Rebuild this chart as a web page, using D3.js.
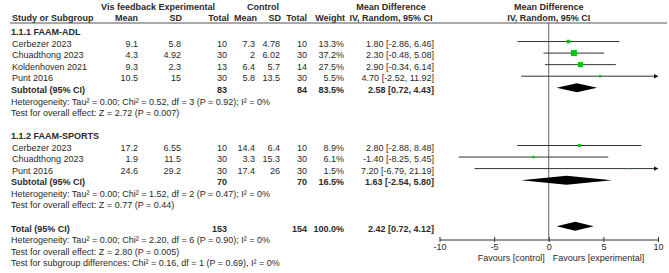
<!DOCTYPE html>
<html>
<head>
<meta charset="utf-8">
<script src="https://cdn.jsdelivr.net/npm/d3@7"></script>
<style>
    body { margin: 0; background: #fff; }
    svg text { font-family: Arial, "Liberation Sans", sans-serif; font-size: 9px; fill: #2a2a2a; }
    svg text.bold { font-weight: bold; }
</style>
</head>
<body>
<svg id="chart"></svg>
<script>
// study level data
const studyNames = ['Cerbezer 2023', 'Chuadthong 2023', 'Koldenhoven 2021', 'Punt 2016', 'Cerbezer 2023', 'Chuadthong 2023', 'Punt 2016'];
const studyGroup = [0, 0, 0, 0, 1, 1, 1];
const expMean = [9.1, 4.3, 9.3, 10.5, 17.2, 1.9, 24.6];
const expSD = [5.8, 4.92, 2.3, 15, 6.55, 11.5, 29.2];
const expTotal = [10, 30, 13, 30, 10, 30, 30];
const ctlMean = [7.3, 2, 6.4, 5.8, 14.4, 3.3, 17.4];
const ctlSD = [4.78, 6.02, 5.7, 13.5, 6.4, 15.3, 26];
const ctlTotal = [10, 30, 14, 30, 10, 30, 30];
const weights = [13.3, 37.2, 27.5, 5.5, 8.9, 6.1, 1.5];
const meanDiff = [1.80, 2.30, 2.90, 4.70, 2.80, -1.40, 7.20];
const ciLow = [-2.86, -0.48, -0.34, -2.52, -2.88, -8.25, -6.79];
const ciHigh = [6.46, 5.08, 6.14, 11.92, 8.48, 5.45, 21.19];

// subgroups
const groupNames = ['1.1.1 FAAM-ADL', '1.1.2 FAAM-SPORTS'];
const groupExpTotal = [83, 70];
const groupCtlTotal = [84, 70];
const groupWeight = [83.5, 16.5];
const groupMd = [2.58, 1.63];
const groupLow = [0.72, -2.54];
const groupHigh = [4.43, 5.80];
const groupHetero = [
    'Heterogeneity: Tau² = 0.00; Chi² = 0.52, df = 3 (P = 0.92); I² = 0%',
    'Heterogeneity: Tau² = 0.00; Chi² = 1.52, df = 2 (P = 0.47); I² = 0%'
];
const groupEffect = [
    'Test for overall effect: Z = 2.72 (P = 0.007)',
    'Test for overall effect: Z = 0.77 (P = 0.44)'
];

// overall
const totalExp = 153;
const totalCtl = 154;
const totalWeight = 100.0;
const totalMd = 2.42;
const totalLow = 0.72;
const totalHigh = 4.12;
const totalNotes = [
    'Heterogeneity: Tau² = 0.00; Chi² = 2.20, df = 6 (P = 0.90); I² = 0%',
    'Test for overall effect: Z = 2.80 (P = 0.005)',
    'Test for subgroup differences: Chi² = 0.16, df = 1 (P = 0.69), I² = 0%'
];

const axisTicks = [-10, -5, 0, 5, 10];
const axisDomain = [-10, 10];

class ForestPlot {

    constructor(_config) {
        this.config = {
            parentElement: _config.parentElement,
            containerWidth: _config.containerWidth || 669,
            containerHeight: _config.containerHeight || 273,
            plotLeft: 439.5,
            plotRight: 658,
            headerLine: 23,
            axisY: 239.5,
            // right edges of the numeric columns
            cols: {name: 11, expMean: 138, expSD: 181, expTotal: 227, ctlMean: 255, ctlSD: 280, ctlTotal: 307, weight: 344, ci: 434},
            heads: {expMean: 138, expSD: 182, expTotal: 229, ctlMean: 257, ctlSD: 281, ctlTotal: 307, weight: 345}
        };
        this.initVis();
    }

    initVis() {
        let vis = this;

        vis.svg = d3.select(vis.config.parentElement)
            .attr('width', vis.config.containerWidth)
            .attr('height', vis.config.containerHeight);

        vis.xScale = d3.scaleLinear()
            .domain(axisDomain)
            .range([vis.config.plotLeft, vis.config.plotRight]);

        vis.rowY = d3.scaleLinear()
            .domain([0, 20])
            .range([32, 263]);

        vis.boxSize = d3.scaleSqrt()
            .domain([0, d3.max(weights)])
            .range([0, 6]);

        vis.xAxis = d3.axisBottom(vis.xScale)
            .tickValues(axisTicks)
            .tickFormat(d => String(d))
            .tickSizeInner(0)
            .tickSizeOuter(0)
            .tickPadding(4.5);
    }

    updateVis() {
        let vis = this;

        // lay the rows out
        vis.rows = [];
        let r = 0;
        groupNames.forEach((g, gi) => {
            vis.rows.push({type: 'group', row: r++, gi});
            studyNames.forEach((s, i) => {
                if (studyGroup[i] === gi) vis.rows.push({type: 'study', row: r++, i});
            });
            vis.rows.push({type: 'subtotal', row: r++, gi});
            vis.rows.push({type: 'note', row: r++, text: groupHetero[gi]});
            vis.rows.push({type: 'note', row: r++, text: groupEffect[gi]});
            r++;
        });
        vis.rows.push({type: 'total', row: r++});
        totalNotes.forEach(t => vis.rows.push({type: 'note', row: r++, text: t}));

        vis.renderVis();
    }

    text(x, y, str, anchor, bold) {
        return this.svg.append('text')
            .attr('x', x)
            .attr('y', y)
            .attr('text-anchor', anchor || 'start')
            .attr('class', bold ? 'bold' : null)
            .text(str);
    }

    ciText(md, lo, hi) {
        return `${md.toFixed(2)} [${lo.toFixed(2)}, ${hi.toFixed(2)}]`;
    }

    renderVis() {
        let vis = this;
        const c = vis.config.cols;
        const h = vis.config.heads;
        const x = vis.xScale;

        // headers
        vis.text(158, 10, 'Vis feedback Experimental', 'middle', true);
        vis.text(263, 10, 'Control', 'middle', true);
        vis.text(391, 10, 'Mean Difference', 'middle', true);
        vis.text(x(0), 10, 'Mean Difference', 'middle', true);
        vis.text(c.name + 1, 21, 'Study or Subgroup', 'start', true);
        vis.text(h.expMean, 21, 'Mean', 'end', true);
        vis.text(h.expSD, 21, 'SD', 'end', true);
        vis.text(h.expTotal, 21, 'Total', 'end', true);
        vis.text(h.ctlMean, 21, 'Mean', 'end', true);
        vis.text(h.ctlSD, 21, 'SD', 'end', true);
        vis.text(h.ctlTotal, 21, 'Total', 'end', true);
        vis.text(h.weight, 21, 'Weight', 'end', true);
        vis.text(391, 21, 'IV, Random, 95% CI', 'middle', true);
        vis.text(x(0), 21, 'IV, Random, 95% CI', 'middle', true);

        vis.svg.append('line')
            .attr('x1', 10).attr('x2', 667)
            .attr('y1', vis.config.headerLine).attr('y2', vis.config.headerLine)
            .attr('stroke', '#555').attr('stroke-width', 1.2);

        // line of no effect
        vis.svg.append('line')
            .attr('x1', x(0)).attr('x2', x(0))
            .attr('y1', vis.config.headerLine).attr('y2', vis.config.axisY)
            .attr('stroke', '#666').attr('stroke-width', 1);

        const base = d => vis.rowY(d.row) + 3.2;
        const markY = d => vis.rowY(d.row) - 2;

        vis.rows.forEach(d => {
            if (d.type === 'group') {
                vis.text(c.name, base(d), groupNames[d.gi], 'start', true);
            } else if (d.type === 'note') {
                vis.text(c.name, base(d), d.text);
            } else if (d.type === 'study') {
                const i = d.i;
                vis.text(c.name + 1, base(d), studyNames[i]);
                vis.text(c.expMean, base(d), String(expMean[i]), 'end');
                vis.text(c.expSD, base(d), String(expSD[i]), 'end');
                vis.text(c.expTotal, base(d), String(expTotal[i]), 'end');
                vis.text(c.ctlMean, base(d), String(ctlMean[i]), 'end');
                vis.text(c.ctlSD, base(d), String(ctlSD[i]), 'end');
                vis.text(c.ctlTotal, base(d), String(ctlTotal[i]), 'end');
                vis.text(c.weight, base(d), weights[i].toFixed(1) + '%', 'end');
                vis.text(c.ci, base(d), vis.ciText(meanDiff[i], ciLow[i], ciHigh[i]), 'end');
            } else if (d.type === 'subtotal' || d.type === 'total') {
                const isTotal = d.type === 'total';
                vis.text(c.name, base(d), isTotal ? 'Total (95% CI)' : 'Subtotal (95% CI)', 'start', true);
                vis.text(c.expTotal, base(d), String(isTotal ? totalExp : groupExpTotal[d.gi]), 'end', true);
                vis.text(c.ctlTotal, base(d), String(isTotal ? totalCtl : groupCtlTotal[d.gi]), 'end', true);
                vis.text(c.weight, base(d), (isTotal ? totalWeight : groupWeight[d.gi]).toFixed(1) + '%', 'end', true);
                vis.text(c.ci, base(d), isTotal ? vis.ciText(totalMd, totalLow, totalHigh)
                    : vis.ciText(groupMd[d.gi], groupLow[d.gi], groupHigh[d.gi]), 'end', true);
            }
        });

        // study CIs
        const studies = vis.rows.filter(d => d.type === 'study');
        const [dMin, dMax] = axisDomain;

        vis.svg.selectAll('.ci')
            .data(studies)
            .join('line')
            .attr('class', 'ci')
            .attr('x1', d => x(Math.max(ciLow[d.i], dMin)))
            .attr('x2', d => ciHigh[d.i] > dMax ? x(dMax) - 3 : x(ciHigh[d.i]))
            .attr('y1', markY).attr('y2', markY)
            .attr('stroke', '#333').attr('stroke-width', 1);

        vis.svg.selectAll('.arrow')
            .data(studies.filter(d => ciHigh[d.i] > dMax))
            .join('path')
            .attr('class', 'arrow')
            .attr('d', d => {
                const xe = x(dMax), y = markY(d);
                return `M${xe - 4},${y - 2.2}L${xe + 0.5},${y}L${xe - 4},${y + 2.2}Z`;
            })
            .attr('fill', '#111');

        vis.svg.selectAll('.box')
            .data(studies)
            .join('rect')
            .attr('class', 'box')
            .attr('x', d => x(meanDiff[d.i]) - vis.boxSize(weights[d.i]) / 2)
            .attr('y', d => markY(d) - vis.boxSize(weights[d.i]) / 2)
            .attr('width', d => vis.boxSize(weights[d.i]))
            .attr('height', d => vis.boxSize(weights[d.i]))
            .attr('fill', '#00c800');

        // pooled diamonds
        const pooled = vis.rows.filter(d => d.type === 'subtotal' || d.type === 'total')
            .map(d => d.type === 'total'
                ? {row: d.row, md: totalMd, lo: totalLow, hi: totalHigh}
                : {row: d.row, md: groupMd[d.gi], lo: groupLow[d.gi], hi: groupHigh[d.gi]});

        vis.svg.selectAll('.diamond')
            .data(pooled)
            .join('path')
            .attr('class', 'diamond')
            .attr('d', d => {
                const y = markY(d);
                return `M${x(d.lo)},${y}L${x(d.md)},${y - 4.5}L${x(d.hi)},${y}L${x(d.md)},${y + 4.5}Z`;
            })
            .attr('fill', '#000');

        // axis
        const ax = vis.svg.append('g')
            .attr('transform', `translate(0,${vis.config.axisY})`)
            .call(vis.xAxis);
        ax.select('.domain').attr('stroke', '#333');
        ax.selectAll('.tick line').attr('y1', -2.5).attr('y2', 2.5).attr('stroke', '#333');

        vis.text(x(0) - 4, 261, 'Favours [control]', 'end');
        vis.text(x(0) + 4, 261, 'Favours [experimental]', 'start');
    }
}

const plot = new ForestPlot({parentElement: '#chart'});
plot.updateVis();
</script>
</body>
</html>
